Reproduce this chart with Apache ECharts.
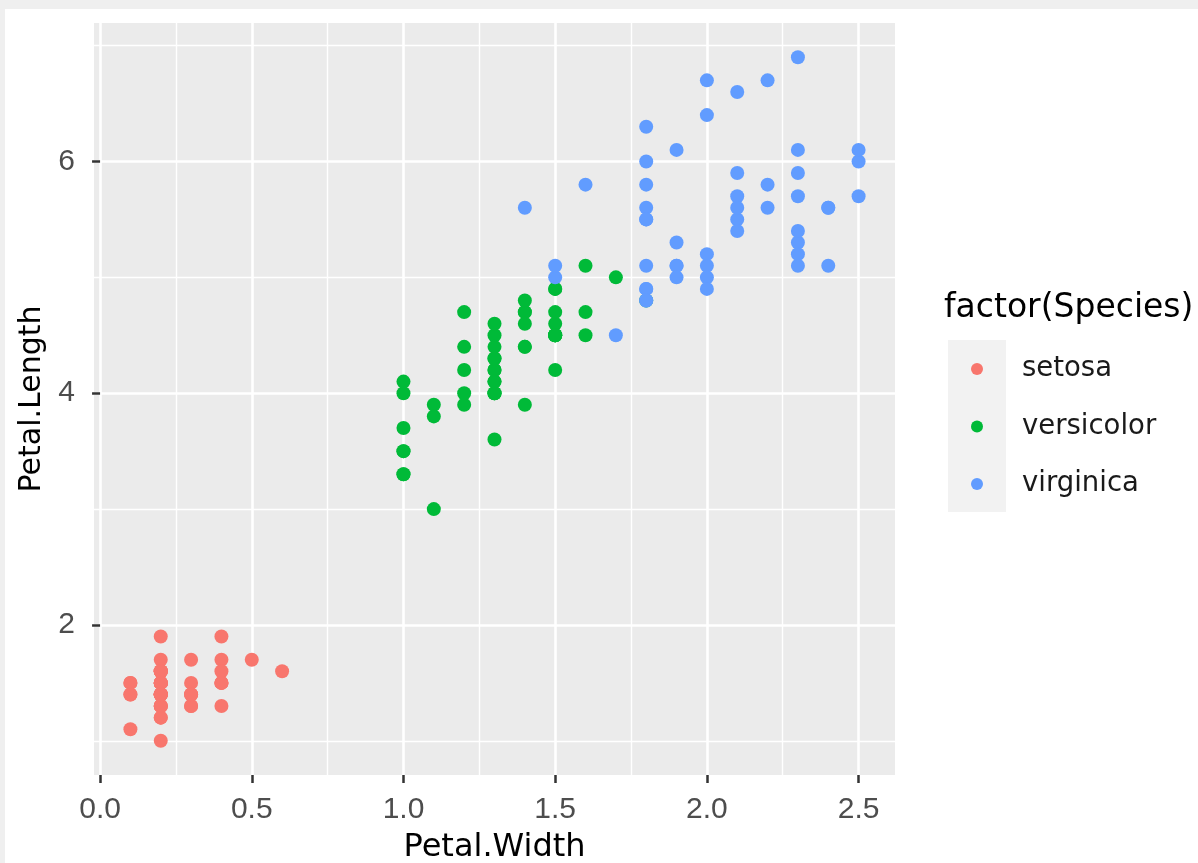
<!DOCTYPE html>
<html>
<head>
<meta charset="utf-8">
<script src="https://cdn.jsdelivr.net/npm/echarts@6/dist/echarts.min.js"></script>
<style>
  html, body { margin: 0; padding: 0; background: #efefef; }
  #sheet { position: absolute; left: 5px; top: 9px; right: 0; bottom: 0; background: #ffffff; }
  #chart { position: absolute; left: 0; top: 0; width: 1198px; height: 863px; }
</style>
</head>
<body>
<div id="sheet"></div>
<div id="chart"></div>
<script>
// ---- data (iris: Petal.Width, Petal.Length) ----
var species = ['setosa', 'versicolor', 'virginica'];
var speciesColors = ['#F8766D', '#00BA38', '#619CFF'];

var setosaWidth = [0.2,0.2,0.2,0.2,0.2,0.4,0.3,0.2,0.2,0.1,0.2,0.2,0.1,0.1,0.2,0.4,0.4,0.3,0.3,0.3,0.2,0.4,0.2,0.5,0.2,0.2,0.4,0.2,0.2,0.2,0.2,0.4,0.1,0.2,0.2,0.2,0.2,0.1,0.2,0.2,0.3,0.3,0.2,0.6,0.4,0.3,0.2,0.2,0.2,0.2];
var setosaLength = [1.4,1.4,1.3,1.5,1.4,1.7,1.4,1.5,1.4,1.5,1.5,1.6,1.4,1.1,1.2,1.5,1.3,1.4,1.7,1.5,1.7,1.5,1.0,1.7,1.9,1.6,1.6,1.5,1.4,1.6,1.6,1.5,1.5,1.4,1.5,1.2,1.3,1.4,1.3,1.5,1.3,1.3,1.3,1.6,1.9,1.4,1.6,1.4,1.5,1.4];

var versicolorWidth = [1.4,1.5,1.5,1.3,1.5,1.3,1.6,1.0,1.3,1.4,1.0,1.5,1.0,1.4,1.3,1.4,1.5,1.0,1.5,1.1,1.8,1.3,1.5,1.2,1.3,1.4,1.4,1.7,1.5,1.0,1.1,1.0,1.2,1.6,1.5,1.6,1.5,1.3,1.3,1.3,1.2,1.4,1.2,1.0,1.3,1.2,1.3,1.3,1.1,1.3];
var versicolorLength = [4.7,4.5,4.9,4.0,4.6,4.5,4.7,3.3,4.6,3.9,3.5,4.2,4.0,4.7,3.6,4.4,4.5,4.1,4.5,3.9,4.8,4.0,4.9,4.7,4.3,4.4,4.8,5.0,4.5,3.5,3.8,3.7,3.9,5.1,4.5,4.5,4.7,4.4,4.1,4.0,4.4,4.6,4.0,3.3,4.2,4.2,4.2,4.3,3.0,4.1];

var virginicaWidth = [2.5,1.9,2.1,1.8,2.2,2.1,1.7,1.8,1.8,2.5,2.0,1.9,2.1,2.0,2.4,2.3,1.8,2.2,2.3,1.5,2.3,2.0,2.0,1.8,2.1,1.8,1.8,1.8,2.1,1.6,1.9,2.0,2.2,1.5,1.4,2.3,2.4,1.8,1.8,2.1,2.4,2.3,1.9,2.3,2.5,2.3,1.9,2.0,2.3,1.8];
var virginicaLength = [6.0,5.1,5.9,5.6,5.8,6.6,4.5,6.3,5.8,6.1,5.1,5.3,5.5,5.0,5.1,5.3,5.5,6.7,6.9,5.0,5.7,4.9,6.7,4.9,5.7,6.0,4.8,4.9,5.6,5.8,6.1,6.4,5.6,5.1,5.6,6.1,5.6,5.5,4.8,5.4,5.6,5.1,5.1,5.9,5.7,5.2,5.0,5.2,5.4,5.1];

// ---- axes ----
var xRange = [-0.02, 2.62];
var yRange = [0.705, 7.195];
var xTicks = [0, 0.5, 1.0, 1.5, 2.0, 2.5];
var xMinorTicks = [0.25, 0.75, 1.25, 1.75, 2.25];
var yTicks = [2, 4, 6];
var yMinorTicks = [1, 3, 5, 7];
var xTitle = 'Petal.Width';
var yTitle = 'Petal.Length';
var legendTitle = 'factor(Species)';

function pairs(xs, ys) {
  return xs.map(function (x, i) { return [x, ys[i]]; });
}
var seriesData = [
  pairs(setosaWidth, setosaLength),
  pairs(versicolorWidth, versicolorLength),
  pairs(virginicaWidth, virginicaLength)
];

var tickFont = { fontFamily: 'Liberation Sans', fontSize: 30, color: '#4D4D4D' };
var titleFont = { fontFamily: 'DejaVu Sans', fontSize: 32, color: '#000000' };

function majorAxis(range, ticks, fmt, margin, extra) {
  var a = {
    type: 'value',
    min: range[0],
    max: range[1],
    axisLine: { show: false },
    axisTick: { show: true, customValues: ticks, length: 8, lineStyle: { color: '#333333', width: 2.5 } },
    axisLabel: { show: true, customValues: ticks, formatter: fmt, margin: margin,
                 fontFamily: tickFont.fontFamily, fontSize: tickFont.fontSize, color: tickFont.color },
    splitLine: { show: true, lineStyle: { color: '#FFFFFF', width: 2.6 } },
    minorTick: { show: false },
    minorSplitLine: { show: false }
  };
  for (var k in extra) a[k] = extra[k];
  return a;
}
function minorAxis(range, ticks, extra) {
  var a = {
    type: 'value',
    min: range[0],
    max: range[1],
    axisLine: { show: false },
    axisTick: { show: false, customValues: ticks },
    axisLabel: { show: false, customValues: ticks },
    splitLine: { show: true, lineStyle: { color: '#FFFFFF', width: 1.4 } },
    z: 0
  };
  for (var k in extra) a[k] = extra[k];
  return a;
}

var chart = echarts.init(document.getElementById('chart'), null, { renderer: 'canvas' });
chart.setOption({
  animation: false,
  backgroundColor: 'transparent',
  title: {
    text: legendTitle,
    left: 944,
    top: 292,
    padding: 0,
    textStyle: { fontFamily: 'DejaVu Sans', fontSize: 33, fontWeight: 'normal', color: '#000000' }
  },
  graphic: [{
    type: 'rect',
    shape: { x: 948, y: 340, width: 58, height: 172 },
    style: { fill: '#F2F2F2' },
    z: -1
  }],
  legend: {
    orient: 'vertical',
    left: 971,
    top: 354,
    padding: 0,
    itemWidth: 80,
    itemHeight: 12,
    itemGap: 27.5,
    icon: 'circle',
    data: species,
    textStyle: { fontFamily: 'DejaVu Sans', fontSize: 27.5, color: '#1A1A1A', lineHeight: 30 }
  },
  grid: {
    left: 94, top: 23, right: 303, bottom: 88,
    outerBoundsMode: 'none',
    containLabel: false,
    show: true, backgroundColor: '#EBEBEB', borderWidth: 0
  },
  xAxis: [
    majorAxis(xRange, xTicks, function (v) { return v.toFixed(1); }, 20, {
      position: 'bottom',
      name: xTitle, nameLocation: 'middle', nameGap: 57,
      nameTextStyle: titleFont
    }),
    minorAxis(xRange, xMinorTicks, { position: 'bottom' })
  ],
  yAxis: [
    majorAxis(yRange, yTicks, function (v) { return String(v); }, 19, {
      position: 'left',
      name: yTitle, nameLocation: 'middle', nameGap: 46,
      nameTextStyle: { fontFamily: 'DejaVu Sans', fontSize: 30, color: '#000000' }
    }),
    minorAxis(yRange, yMinorTicks, { position: 'left' })
  ],
  series: species.map(function (name, i) {
    return {
      name: name,
      type: 'scatter',
      xAxisIndex: 0,
      yAxisIndex: 0,
      data: seriesData[i],
      symbol: 'circle',
      symbolSize: 14,
      itemStyle: { color: speciesColors[i], opacity: 1 },
      emphasis: { disabled: true }
    };
  })
});
</script>
</body>
</html>
